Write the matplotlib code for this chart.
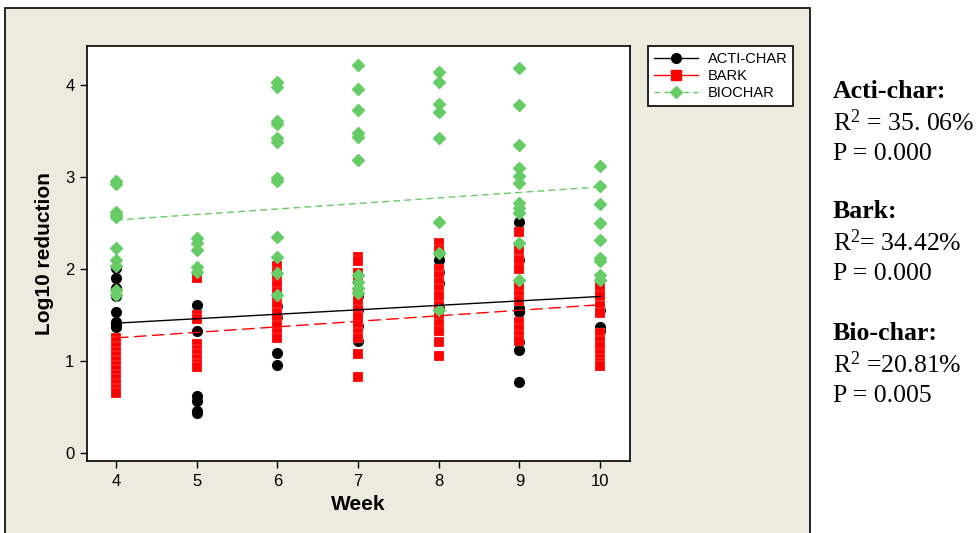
"""
Log10 reduction by week - three filter media, with linear fit lines
"""

import matplotlib.pyplot as plt
from matplotlib import font_manager
from matplotlib.patches import Rectangle
from matplotlib.lines import Line2D

# Minitab uses a narrow sans; take Liberation Sans Narrow if it is there
try:
    font_manager.findfont("Liberation Sans Narrow", fallback_to_default=False)
    SANS = ["Liberation Sans Narrow", "DejaVu Sans"]
    NARROW = True
except ValueError:
    SANS = ["Liberation Sans", "DejaVu Sans"]
    NARROW = False

plt.rcParams["font.family"] = SANS
plt.rcParams["mathtext.fontset"] = "custom"
plt.rcParams["mathtext.rm"] = "Liberation Serif"
plt.rcParams["mathtext.default"] = "regular"

# ===================== data =====================
weeks = [4, 5, 6, 7, 8, 9, 10]

acti_week = ([4] * 8 + [5] * 6 + [6] * 4 + [7] * 4 + [8] * 5 + [9] * 7 + [10] * 3)
acti_val = [2.01, 1.90, 1.79, 1.70, 1.53, 1.42, 1.39, 1.37,
            1.61, 1.32, 0.62, 0.57, 0.46, 0.43,
            1.60, 1.48, 1.09, 0.96,
            1.70, 1.55, 1.38, 1.22,
            2.17, 2.10, 1.97, 1.85, 1.58,
            2.51, 2.10, 1.58, 1.53, 1.20, 1.12, 0.77,
            1.55, 1.37, 1.33]

bark_week = ([4] * 13 + [5] * 9 + [6] * 12 + [7] * 13 + [8] * 13 + [9] * 11 + [10] * 11)
bark_val = [1.25, 1.20, 1.15, 1.10, 1.05, 1.00, 0.95, 0.90, 0.85, 0.80, 0.75, 0.70, 0.65,
            1.90, 1.50, 1.45, 1.18, 1.12, 1.07, 1.02, 0.97, 0.93,
            2.03, 1.97, 1.90, 1.82, 1.75, 1.68, 1.60, 1.52, 1.45, 1.38, 1.30, 1.25,
            2.13, 2.08, 1.95, 1.88, 1.75, 1.65, 1.55, 1.48, 1.38, 1.30, 1.25, 1.07, 0.82,
            2.28, 2.20, 2.00, 1.92, 1.85, 1.78, 1.70, 1.60, 1.50, 1.40, 1.33, 1.20, 1.05,
            2.40, 2.20, 2.10, 2.00, 1.80, 1.72, 1.65, 1.42, 1.35, 1.28, 1.22,
            1.80, 1.70, 1.60, 1.52, 1.30, 1.22, 1.15, 1.08, 1.02, 0.98, 0.95]

bio_week = ([4] * 10 + [5] * 5 + [6] * 12 + [7] * 10 + [8] * 8 + [9] * 11 + [10] * 9)
bio_val = [2.95, 2.92, 2.62, 2.58, 2.56, 2.23, 2.10, 2.03, 1.77, 1.72,
           2.34, 2.28, 2.20, 2.02, 1.97,
           4.03, 3.98, 3.61, 3.57, 3.42, 3.38, 2.99, 2.95, 2.35, 2.13, 1.95, 1.72,
           4.21, 3.95, 3.73, 3.48, 3.43, 3.18, 1.93, 1.86, 1.79, 1.74,
           4.14, 4.03, 3.79, 3.70, 3.42, 2.51, 2.17, 1.55,
           4.18, 3.78, 3.35, 3.09, 3.01, 2.93, 2.72, 2.66, 2.61, 2.28, 1.88,
           3.12, 2.90, 2.70, 2.50, 2.31, 2.12, 2.08, 1.93, 1.88]

# fitted lines, end points at week 4 and week 10
fit_weeks = [4, 10]
acti_fit = [1.41, 1.70]
bark_fit = [1.25, 1.61]
bio_fit = [2.53, 2.89]

stats_labels = ["Acti-char:", "Bark:", "Bio-char:"]
stats_r2 = ["R$^2$ = 35. 06%", "R$^2$= 34.42%", "R$^2$ =20.81%"]
stats_p = ["P = 0.000", "P = 0.000", "P = 0.005"]

# ===================== plot =====================
GREEN = "#66CC66"
RED = "#FF0000"
BEIGE = "#EEEAE0"

fig = plt.figure(figsize=(9.76, 5.33), dpi=100)
fig.patch.set_facecolor("white")

# beige panel with black frame behind the chart
frame = Rectangle((5 / 976, -0.02), 805 / 976, (533 - 8) / 533 + 0.02,
                  transform=fig.transFigure, facecolor=BEIGE, edgecolor="black",
                  linewidth=1.2, zorder=-10)
fig.patches.append(frame)

ax = fig.add_axes([87 / 976, 72 / 533, 543 / 976, 415 / 533])
ax.set_facecolor("white")

ax.plot(acti_week, acti_val, "o", color="black", markersize=7, linestyle="none", zorder=3)
ax.plot(bark_week, bark_val, "s", color=RED, markersize=7, markeredgecolor="white",
        markeredgewidth=0.15, linestyle="none", zorder=4)
ax.plot(bio_week, bio_val, "D", color=GREEN, markersize=6.5, linestyle="none", zorder=5)

ax.plot(fit_weeks, acti_fit, color="black", linewidth=1.0, zorder=6)
ax.plot(fit_weeks, bark_fit, color=RED, linewidth=1.0, dashes=(9, 4), zorder=6)
ax.plot(fit_weeks, bio_fit, color=GREEN, linewidth=1.0, dashes=(5, 3), zorder=6)

tick_size = 13 if NARROW else 12
ax.set_xlim(3.64, 10.37)
ax.set_ylim(-0.087, 4.42)
ax.set_xticks(weeks)
ax.set_yticks([0, 1, 2, 3, 4])
ax.tick_params(direction="out", length=5, width=1, labelsize=tick_size, pad=4)
for s in ax.spines.values():
    s.set_linewidth(1.2)

ax.set_xlabel("Week", fontsize=15, fontweight="bold", labelpad=5,
              family=["Liberation Sans", "DejaVu Sans"])
ax.set_ylabel("Log10 reduction", fontsize=15, fontweight="bold", labelpad=8,
              family=["Liberation Sans", "DejaVu Sans"])

handles = [
    Line2D([], [], color="black", marker="o", markersize=7, linewidth=1.0),
    Line2D([], [], color=RED, marker="s", markersize=7, linewidth=1.0),
    Line2D([], [], color=GREEN, marker="D", markersize=6.5, linewidth=1.0, dashes=(4, 3)),
]
leg = fig.legend(handles, ["ACTI-CHAR", "BARK", "BIOCHAR"],
                 loc="upper left", bbox_to_anchor=(648 / 976, 1 - 46 / 533),
                 borderaxespad=0, prop={"family": ["Liberation Sans", "DejaVu Sans"], "size": 10.5},
                 frameon=True, fancybox=False, framealpha=1,
                 edgecolor="black", handlelength=3.0, handletextpad=0.7,
                 borderpad=0.4, labelspacing=0.22)
leg.get_frame().set_linewidth(1.2)

# regression statistics on the right
y_pos = [92, 212, 334]
for lab, r2, p, y in zip(stats_labels, stats_r2, stats_p, y_pos):
    fig.text(833 / 976, 1 - y / 533, lab, fontsize=18.5, fontweight="bold",
             family="Liberation Serif", va="center")
    fig.text(833 / 976, 1 - (y + 31) / 533, r2, fontsize=18.5,
             family="Liberation Serif", va="center")
    fig.text(833 / 976, 1 - (y + 62) / 533, p, fontsize=18.5,
             family="Liberation Serif", va="center")

fig.savefig("out.png", dpi=100)
plt.close(fig)
